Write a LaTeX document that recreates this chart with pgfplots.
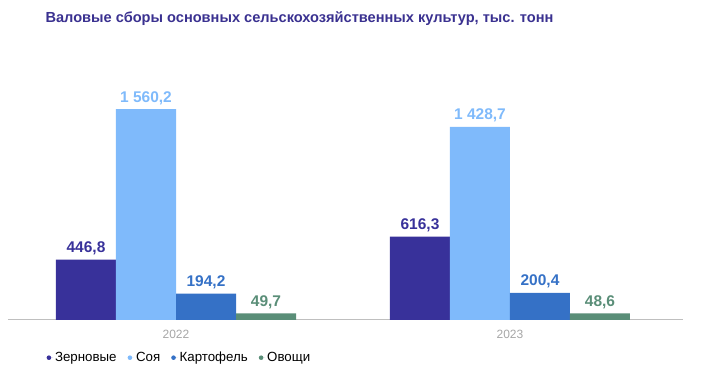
\documentclass[border=0pt]{standalone}
\usepackage{pgfplots}
\pgfplotsset{compat=1.18}
\usepackage{fontspec}
\setmainfont{Liberation Sans}
\definecolor{cA}{HTML}{38319A}
\definecolor{cB}{HTML}{7FBAFB}
\definecolor{cC}{HTML}{3571C6}
\definecolor{cD}{HTML}{5A8E78}
\definecolor{cT}{HTML}{3A3190}
\begin{document}
\begin{tikzpicture}[x=1pt,y=1pt]
\useasboundingbox (0,0) rectangle (702,371);
\begin{axis}[
  at={(8pt,51pt)}, anchor=south west,
  scale only axis, width=675pt, height=260pt,
  xmin=-0.503, xmax=1.518, ymin=0, ymax=1923,
  axis x line*=bottom, axis y line=none,
  x axis line style={draw=black!25, line width=1pt},
  xtick={0,1}, xticklabels={2022,2023}, major tick length=0pt,
  xticklabel style={font=\fontsize{12}{14}\selectfont, text=black!35, yshift=-6.5pt},
  ybar, bar width=60pt,
  nodes near coords,
  every node near coord/.append style={font=\bfseries\fontsize{15.5}{18}\selectfont, /pgf/number format/assume math mode=true, yshift=1pt},
  /pgf/number format/.cd, fixed, fixed zerofill, precision=1, use comma, 1000 sep={\ },
  /pgfplots/.cd,
  title={Валовые сборы основных сельскохозяйственных культур, тыс. тонн},
  title style={at={(rel axis cs:0.0504,1.1346)}, anchor=west, font=\bfseries\fontsize{14.6}{17}\selectfont, text=cT},
  legend columns=-1,
  legend style={at={(rel axis cs:0.0525,-0.145)}, anchor=west, draw=none, fill=none, font=\fontsize{13.3}{15}\selectfont, /tikz/every even column/.append style={column sep=9pt}},
  legend image code/.code={\fill[#1, draw=none] (2.3pt,0) circle (2.3pt); \path (0,0) -- (6.4pt,0);},
]
\addplot[fill=cA, draw=none, bar shift=-90pt, nodes near coords style={text=cA}] coordinates {(0,446.8) (1,616.3)};
\addplot[fill=cB, draw=none, bar shift=-30pt, nodes near coords style={text=cB}] coordinates {(0,1560.2) (1,1428.7)};
\addplot[fill=cC, draw=none, bar shift=30pt, nodes near coords style={text=cC}] coordinates {(0,194.2) (1,200.4)};
\addplot[fill=cD, draw=none, bar shift=90pt, nodes near coords style={text=cD}] coordinates {(0,49.7) (1,48.6)};
\legend{Зерновые, Соя, Картофель, Овощи}
\end{axis}
\end{tikzpicture}
\end{document}
